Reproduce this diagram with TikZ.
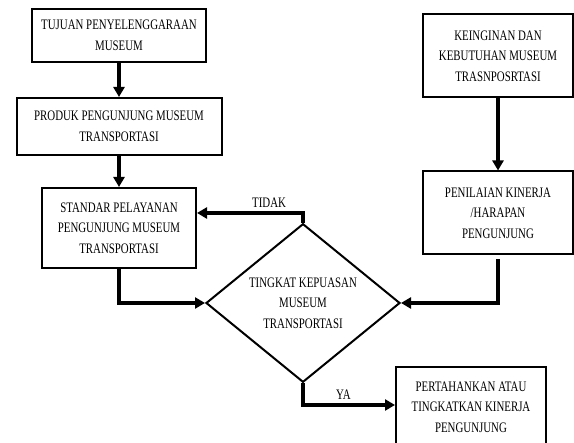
\documentclass[tikz,border=0pt]{standalone}
\usepackage{fontspec}
\setmainfont{Liberation Serif}[FakeStretch=0.75]
\usetikzlibrary{positioning, arrows.meta, shapes.geometric}

\begin{document}
\begin{tikzpicture}[x=1pt, y=-1pt,
	box/.style={draw, line width=2pt, align=center, inner sep=0pt, minimum width=150pt, minimum height=83pt, font=\fontsize{14.5}{20.5}\selectfont},
	keputusan/.style={draw, diamond, line width=2pt, align=center, inner sep=0pt, minimum width=194pt, minimum height=133pt, font=\fontsize{14.5}{20.5}\selectfont},
	arr/.style={-{Triangle[length=10pt,width=11pt]}, line width=3.5pt},
	lbl/.style={font=\fontsize{14.5}{16}\selectfont, inner sep=2pt}]
	\useasboundingbox (0,0) rectangle (574,443);
	% kolom kiri
	\node[box, minimum width=174pt, minimum height=53pt] (tujuan) at (119,35.5) {TUJUAN PENYELENGGARAAN\\MUSEUM};
	\node[box, minimum width=205pt, minimum height=57pt, below=34pt of tujuan] (produk) {PRODUK PENGUNJUNG MUSEUM\\TRANSPORTASI};
	\node[box, minimum width=154pt, minimum height=80pt, below=31pt of produk] (standar) {STANDAR PELAYANAN\\PENGUNJUNG MUSEUM\\TRANSPORTASI};
	% keputusan
	\node[keputusan] (kepuasan) at (303,303) {TINGKAT KEPUASAN\\MUSEUM\\TRANSPORTASI};
	% kolom kanan
	\node[box] (keinginan) at (498,56) {KEINGINAN DAN\\KEBUTUHAN MUSEUM\\TRASNPOSRTASI};
	\node[box, below=72pt of keinginan] (penilaian) {PENILAIAN KINERJA\\/HARAPAN\\PENGUNJUNG};
	\node[box, minimum height=80pt] (pertahankan) at (471,407) {PERTAHANKAN ATAU\\TINGKATKAN KINERJA\\PENGUNJUNG};

	\draw[arr] (tujuan) -- (produk);
	\draw[arr] (produk) -- (standar);
	\draw[arr] (standar.south) |- (kepuasan.west);
	\draw[arr] (keinginan) -- (penilaian);
	\draw[arr, shorten <=4pt] (penilaian.south) |- (kepuasan.east);
	\draw[arr] (kepuasan.north) |- node[lbl, above=2pt, pos=0.66] {TIDAK} ([yshift=15pt]standar.east);
	\draw[arr] (kepuasan.south) |- node[lbl, above=2pt, pos=0.72] {YA} ([yshift=2pt]pertahankan.west);
\end{tikzpicture}
\end{document}
